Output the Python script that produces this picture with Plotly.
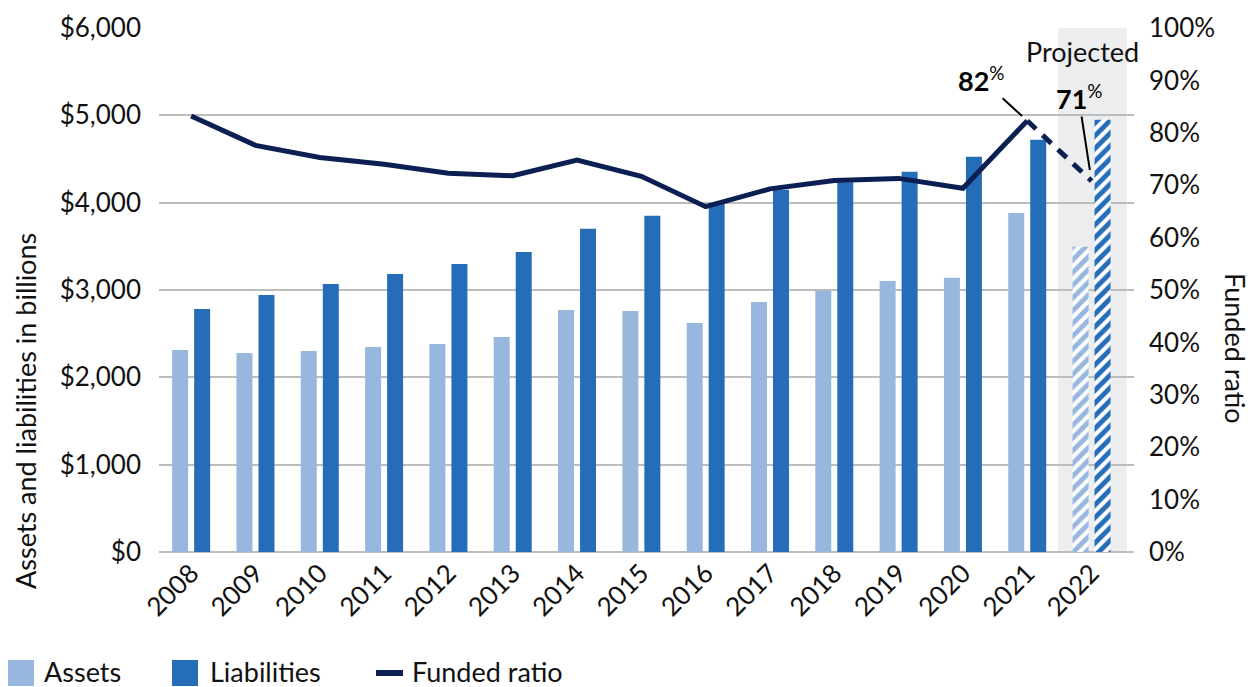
import plotly.graph_objects as go

years = ["2008", "2009", "2010", "2011", "2012", "2013", "2014", "2015",
         "2016", "2017", "2018", "2019", "2020", "2021", "2022"]
assets = [2314, 2279, 2302, 2348, 2383, 2463, 2772, 2760, 2623, 2864, 2993, 3104, 3139, 3883, 3494]
liabilities = [2783, 2944, 3070, 3184, 3299, 3436, 3700, 3849, 3990, 4147, 4235, 4353, 4525, 4719, 4948]
funded_ratio = [83.2, 77.6, 75.3, 74.0, 72.3, 71.8, 74.8, 71.7, 65.9, 69.3, 70.9, 71.3, 69.4, 82.3, 70.8]
projected = [False] * 14 + [True]

C_ASSET = "#98B7DE"
C_LIAB = "#256DB8"
C_LINE = "#0B1F52"
FONT = "Lato"
FS_TICK = 26
FS_TEXT = 27

# page is drawn with an 8px body offset; plot area target in page px: x 159..1134, y 28..552
OFF = 8
PL, PR, PT, PB = 159, 1134, 28, 552
W, H = 1255 - OFF, 687 - OFF
PW, PH = PR - PL, PB - PT

pattern_shape = ["/" if p else "" for p in projected]

fig = go.Figure()
fig.add_trace(go.Bar(
    x=years, y=assets, name="Assets", marker_color=C_ASSET, marker_line_width=0,
    marker_pattern=dict(shape=pattern_shape, fgcolor=C_ASSET, bgcolor="white",
                        size=9, solidity=0.55, fillmode="replace"),
))
fig.add_trace(go.Bar(
    x=years, y=liabilities, name="Liabilities", marker_color=C_LIAB, marker_line_width=0,
    marker_pattern=dict(shape=pattern_shape, fgcolor=C_LIAB, bgcolor="white",
                        size=9, solidity=0.55, fillmode="replace"),
))
n_act = projected.index(True)
fig.add_trace(go.Scatter(
    x=years[:n_act], y=funded_ratio[:n_act], yaxis="y2", mode="lines",
    line=dict(color=C_LINE, width=5), name="Funded ratio",
))
fig.add_trace(go.Scatter(
    x=years[n_act - 1:], y=funded_ratio[n_act - 1:], yaxis="y2", mode="lines",
    line=dict(color=C_LINE, width=5, dash="12px,9px"), name="Funded ratio (projected)",
))

# projected shaded band
fig.add_shape(type="rect", xref="x", yref="paper", x0=13.48, x1=14.55, y0=0, y1=1,
              fillcolor="#ECEDEF", line_width=0, layer="below")

fig.update_layout(
    width=W, height=H,
    margin=dict(l=PL - OFF, r=W - (PR - OFF), t=PT - OFF, b=H - (PB - OFF), autoexpand=False),
    paper_bgcolor="white", plot_bgcolor="white",
    font=dict(family=FONT, size=FS_TICK, color="#111111"),
    barmode="group", bargap=0.316, bargroupgap=0.273,
    xaxis=dict(type="category", range=[-0.5, 14.66], tickangle=-45, automargin=False,
               showgrid=False, showline=False, ticks="", tickfont=dict(size=FS_TICK),
               zeroline=False),
    yaxis=dict(range=[0, 6000], dtick=1000, tickprefix="$", tickformat=",d", automargin=False,
               showgrid=True, gridcolor="#BDBDBD", gridwidth=1.5,
               zeroline=True, zerolinecolor="#BDBDBD", zerolinewidth=2,
               ticks="", ticklabelstandoff=17, tickfont=dict(size=FS_TICK)),
    yaxis2=dict(range=[0, 100], dtick=10, ticksuffix="%", overlaying="y", side="right",
                automargin=False, showgrid=False, zeroline=False, ticks="",
                ticklabelstandoff=14, tickfont=dict(size=FS_TICK)),
    showlegend=False,
)


def px(X):
    return (X - PL) / PW


def py(Y):
    return (PB - Y) / PH


# axis titles
fig.add_annotation(text="Assets and liabilities in billions", xref="paper", yref="paper",
                   x=px(25), y=py(411), textangle=-90, showarrow=False,
                   font=dict(size=FS_TEXT), xanchor="center", yanchor="middle")
fig.add_annotation(text="Funded ratio", xref="paper", yref="paper",
                   x=px(1236), y=py(348), textangle=90, showarrow=False,
                   font=dict(size=FS_TEXT), xanchor="center", yanchor="middle")

# projected label
fig.add_annotation(text="Projected", xref="paper", yref="paper", x=px(1082), y=py(52),
                   showarrow=False, font=dict(size=FS_TEXT), xanchor="center", yanchor="middle")

# value callouts (category positions given by index)
i21 = n_act - 1
i22 = len(years) - 1
fig.add_annotation(text="<b>%d</b><sup>%%</sup>" % round(funded_ratio[i21]), xref="x", yref="y2",
                   x=i21, y=funded_ratio[i21], ax=-46, ay=-42,
                   showarrow=True, arrowhead=0, arrowwidth=2, arrowcolor="black",
                   standoff=7, font=dict(size=FS_TEXT, color="black"))
fig.add_annotation(text="<b>%d</b><sup>%%</sup>" % round(funded_ratio[i22]), xref="x", yref="y2",
                   x=i22, y=funded_ratio[i22], ax=-13, ay=-84,
                   showarrow=True, arrowhead=0, arrowwidth=2, arrowcolor="black",
                   standoff=11, font=dict(size=FS_TEXT, color="black"))

# manual legend (page px -> paper)
LEG_Y = 671
fig.add_shape(type="rect", xref="paper", yref="paper", x0=px(8), x1=px(34), y0=py(686), y1=py(660),
              fillcolor=C_ASSET, line_width=0)
fig.add_annotation(text="Assets", xref="paper", yref="paper", x=px(43), y=py(LEG_Y),
                   xanchor="left", yanchor="middle", showarrow=False, borderpad=0,
                   font=dict(size=FS_TEXT))
fig.add_shape(type="rect", xref="paper", yref="paper", x0=px(172), x1=px(198), y0=py(686), y1=py(660),
              fillcolor=C_LIAB, line_width=0)
fig.add_annotation(text="Liabilities", xref="paper", yref="paper", x=px(209), y=py(LEG_Y),
                   xanchor="left", yanchor="middle", showarrow=False, borderpad=0,
                   font=dict(size=FS_TEXT))
fig.add_shape(type="line", xref="paper", yref="paper", x0=px(376), x1=px(403), y0=py(673), y1=py(673),
              line=dict(color=C_LINE, width=6))
fig.add_annotation(text="Funded ratio", xref="paper", yref="paper", x=px(411), y=py(LEG_Y),
                   xanchor="left", yanchor="middle", showarrow=False, borderpad=0,
                   font=dict(size=FS_TEXT))

fig.write_html("out.html")
